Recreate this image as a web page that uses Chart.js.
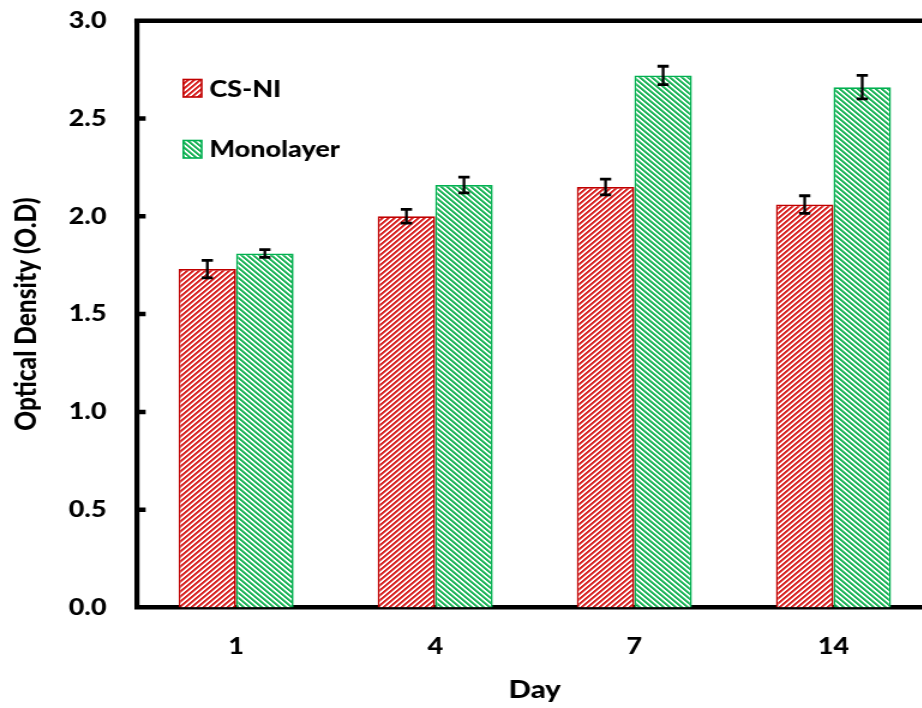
<!DOCTYPE html>
<html>
<head>
<meta charset="utf-8">
<title>Optical Density by Day</title>
<script src="https://cdn.jsdelivr.net/npm/chart.js@4.4.0/dist/chart.umd.min.js"></script>
<style>
  html, body { margin: 0; padding: 0; background: #fff; overflow: hidden; width: 922px; height: 708px; }
  #wrap { position: relative; width: 922px; height: 708px; overflow: hidden; }
  /* the plot is laid out narrow and widened horizontally */
  #c { position: absolute; left: 0; top: 0; transform: scaleX(1.2); transform-origin: 0 0; }
</style>
</head>
<body>
<div id="wrap"><canvas id="c" width="790" height="708" style="width:790px;height:708px"></canvas></div>
<script>
// Days on the x axis
const days = ['1', '4', '7', '14'];
// Series names
const seriesNames = ['CS-NI', 'Monolayer'];
// Mean optical density per day
const csniValues = [1.73, 2.00, 2.15, 2.06];
const monoValues = [1.81, 2.16, 2.72, 2.66];
// Error (+/-) per day
const csniErrors = [0.045, 0.035, 0.04, 0.045];
const monoErrors = [0.02, 0.04, 0.047, 0.06];
// Y axis ticks
const yTicks = [0, 0.5, 1.0, 1.5, 2.0, 2.5, 3.0];

const RED = '#D82222', RED_EDGE = '#C00000';
const GREEN = '#1DB458', GREEN_EDGE = '#00B050';
const TICK_FONT = { family: 'Lato', weight: '900', size: 22.5 };
const TITLE_FONT = { family: 'Lato', weight: '900', size: 24.5 };

const canvas = document.getElementById('c');
const mainCtx = canvas.getContext('2d');

// Diagonal hatch tile: dir > 0 -> "/" , dir < 0 -> "\"
function hatch(color, dir) {
  const n = 5;
  const t = document.createElement('canvas');
  t.width = n; t.height = n;
  const g = t.getContext('2d');
  g.fillStyle = '#fff';
  g.fillRect(0, 0, n, n);
  g.fillStyle = color;
  for (let x = 0; x < n; x++) {
    for (let y = 0; y < n; y++) {
      const k = dir > 0 ? (x + y) % n : ((x - y) % n + n) % n;
      if (k < 2) { g.globalAlpha = 1; g.fillRect(x, y, 1, 1); }
      else if (k === 2) { g.globalAlpha = 0.7; g.fillRect(x, y, 1, 1); }
    }
  }
  return mainCtx.createPattern(t, 'repeat');
}

const redHatch = hatch(RED, 1);
const greenHatch = hatch(GREEN, -1);
const errorSets = [csniErrors, monoErrors];

// Error bars drawn from the data through the y scale
const errorBars = {
  id: 'errorBars',
  afterDatasetsDraw(chart) {
    const ctx = chart.ctx, ys = chart.scales.y;
    chart.data.datasets.forEach((ds, i) => {
      const meta = chart.getDatasetMeta(i);
      meta.data.forEach((bar, j) => {
        const v = ds.data[j], e = errorSets[i][j];
        const yt = ys.getPixelForValue(v + e);
        const yb = ys.getPixelForValue(v - e);
        const x = bar.x, half = 4.7;
        ctx.save();
        ctx.strokeStyle = '#000';
        ctx.lineWidth = 2.3;
        ctx.beginPath();
        ctx.moveTo(x, yt); ctx.lineTo(x, yb);
        ctx.stroke();
        ctx.lineWidth = 2.8;
        ctx.beginPath();
        ctx.moveTo(x - half, yt); ctx.lineTo(x + half, yt);
        ctx.moveTo(x - half, yb); ctx.lineTo(x + half, yb);
        ctx.stroke();
        ctx.restore();
      });
    });
  }
};

// Top frame line and inward tick marks on the value axis
const frame = {
  id: 'frame',
  afterDraw(chart) {
    const ctx = chart.ctx, a = chart.chartArea, ys = chart.scales.y;
    ctx.save();
    ctx.strokeStyle = '#000';
    ctx.lineWidth = 4.5;
    ctx.beginPath();
    ctx.moveTo(a.left - 1.8, a.top);
    ctx.lineTo(chart.width, a.top);
    ctx.stroke();
    ctx.lineWidth = 4.5;
    ctx.beginPath();
    yTicks.forEach(t => {
      if (t === 0 || t === 3) return;
      const y = ys.getPixelForValue(t);
      ctx.moveTo(a.left, y);
      ctx.lineTo(a.left + 7.6, y);
    });
    ctx.stroke();
    ctx.restore();
  }
};

// Legend inside the plot area
const insideLegend = {
  id: 'insideLegend',
  afterDraw(chart) {
    const ctx = chart.ctx;
    const items = [
      { name: seriesNames[0], fill: redHatch, edge: RED_EDGE, top: 79.5, base: 97 },
      { name: seriesNames[1], fill: greenHatch, edge: GREEN_EDGE, top: 140.5, base: 156.5 }
    ];
    ctx.save();
    items.forEach(it => {
      const x = 152.8, w = 15.2, h = 17.5;
      ctx.fillStyle = it.fill;
      ctx.fillRect(x, it.top, w, h);
      ctx.strokeStyle = it.edge;
      ctx.lineWidth = 1.6;
      ctx.strokeRect(x, it.top, w, h);
      ctx.fillStyle = '#000';
      ctx.font = '900 22.5px Lato';
      ctx.textAlign = 'left';
      ctx.textBaseline = 'alphabetic';
      ctx.fillText(it.name, 174.5, it.base);
    });
    ctx.restore();
  }
};

new Chart(canvas, {
  type: 'bar',
  data: {
    labels: days,
    datasets: [
      { label: seriesNames[0], data: csniValues, backgroundColor: redHatch, borderColor: RED_EDGE, borderWidth: 1.7 },
      { label: seriesNames[1], data: monoValues, backgroundColor: greenHatch, borderColor: GREEN_EDGE, borderWidth: 1.7 }
    ]
  },
  options: {
    responsive: false,
    animation: false,
    events: [],
    devicePixelRatio: 1,
    layout: { padding: { top: 20.7, right: 12.5, bottom: 0, left: 0 } },
    datasets: { bar: { categoryPercentage: 0.578, barPercentage: 1.0 } },
    plugins: { legend: { display: false }, tooltip: { enabled: false } },
    scales: {
      x: {
        grid: { display: false, drawTicks: false },
        border: { display: true, color: '#000', width: 4.5 },
        ticks: { color: '#000', font: TICK_FONT, padding: 26 },
        title: { display: true, text: 'Day', color: '#000', font: TITLE_FONT, padding: { top: 0, bottom: 3 } },
        afterFit(scale) {
          scale.height = 708 - 607.5;
          scale.paddingLeft = 0; scale.paddingRight = 0;
        }
      },
      y: {
        min: 0, max: 3,
        afterBuildTicks(scale) { scale.ticks = yTicks.map(v => ({ value: v })); },
        grid: { display: false, drawTicks: false },
        border: { display: true, color: '#000', width: 4.2 },
        ticks: { color: '#000', font: TICK_FONT, padding: 25, callback: v => Number(v).toFixed(1) },
        title: { display: true, text: 'Optical Density (O.D)', color: '#000', font: TITLE_FONT, padding: { top: 7, bottom: 0 } },
        afterFit(scale) {
          scale.width = 113.75;
          scale.paddingTop = 0; scale.paddingBottom = 0;
        }
      }
    }
  },
  plugins: [errorBars, frame, insideLegend]
});
</script>
</body>
</html>
